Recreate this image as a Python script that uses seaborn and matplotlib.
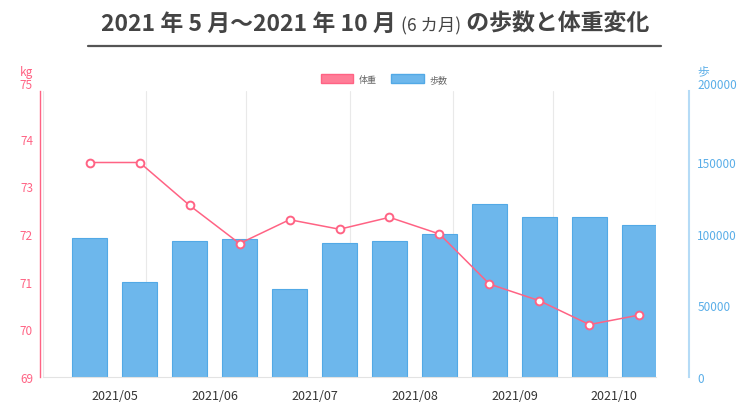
import numpy as np
import pandas as pd
import seaborn as sns
import matplotlib.pyplot as plt
from matplotlib.patches import Patch
from matplotlib.lines import Line2D

# data: half-month periods, May - Oct 2021
periods = ["05前半", "05後半", "06前半", "06後半", "07前半", "07後半",
           "08前半", "08後半", "09前半", "09後半", "10前半", "10後半"]
weight = [73.5, 73.5, 72.6, 71.8, 72.3, 72.1, 72.35, 72.0, 70.95, 70.6, 70.1, 70.3]
steps = [97500, 66100, 95200, 96400, 61500, 93600, 95200, 100300, 121000, 112200, 111700, 106100]
month_labels = ["2021/05", "2021/06", "2021/07", "2021/08", "2021/09", "2021/10"]
# days from 2021-05-01 to each month start (May .. Nov)
month_start_days = [0, 31, 61, 92, 123, 153, 184]

PINK = "#ff6384"
BLUE_FILL = "#6db7ec"
BLUE_EDGE = "#52a9e6"
BLUE_TXT = "#5aaee8"

sns.set_theme(style="white")
plt.rcParams["font.family"] = ["Noto Sans CJK JP", "DejaVu Sans"]

df = pd.DataFrame({"period": periods, "weight": weight, "steps": steps})
df["pos"] = np.arange(len(df))

fig = plt.figure(figsize=(7.5, 4.1), dpi=100)
ax = fig.add_axes([43 / 750, 32 / 410, 613 / 750, 286 / 410])
ax2 = ax.twinx()
ax2.set_zorder(ax.get_zorder() - 1)
ax.patch.set_visible(False)

# bars (steps, right axis)
sns.barplot(data=df, x="period", y="steps", ax=ax2, color=BLUE_FILL,
            width=0.71, saturation=1, edgecolor=BLUE_EDGE, linewidth=0.8, zorder=3)
ax2.set_ylim(0, 200000)
ax2.set_yticks([0, 50000, 100000, 150000, 200000])
ax2.set_ylabel("")
ax2.set_xlabel("")

# line (weight, left axis)
sns.lineplot(data=df, x="pos", y="weight", ax=ax, color=PINK, linewidth=1.1,
             marker="o", markersize=5.6, markerfacecolor="white",
             markeredgecolor=PINK, markeredgewidth=1.4, zorder=5)
ax.set_ylim(69, 75)
ax.set_yticks(range(69, 76))
ax.set_ylabel("")
ax.set_xlabel("")

# x axis: month labels between bar pairs, gridlines at month starts
grid_pos = [(d - 14) / 15 for d in month_start_days]
ax.set_xlim(grid_pos[0], grid_pos[-1])
ax2.set_xlim(grid_pos[0], grid_pos[-1])
ax.set_xticks([2 * i + 0.5 for i in range(len(month_labels))])
ax.set_xticklabels(month_labels, fontsize=9, color="#333333")
ax.set_xticks(grid_pos, minor=True)
ax.tick_params(axis="x", which="major", length=0, pad=9)
ax.tick_params(axis="x", which="minor", length=5, width=0.8, color="#e6e6e6")
ax.grid(False)
ax2.grid(False)
ax2.xaxis.set_visible(True)
ax2.set_axisbelow(True)
ax2.grid(which="minor", axis="x", color="#e9e9e9", linewidth=0.8)

# left axis styling
ax.tick_params(axis="y", length=0, pad=5, labelsize=8.5, labelcolor=PINK)
ax.spines["left"].set_position(("outward", 2.2))
ax.spines["left"].set_color(PINK)
ax.spines["left"].set_linewidth(1.0)
ax.spines["top"].set_visible(False)
ax.spines["right"].set_visible(False)
ax.spines["bottom"].set_color("#e3e3e3")
ax.spines["bottom"].set_linewidth(0.8)

# right axis styling
ax2.tick_params(axis="y", length=0, pad=6, labelsize=8.5, labelcolor=BLUE_TXT)
for s in ["left", "top", "bottom"]:
    ax2.spines[s].set_visible(False)
ax2.spines["right"].set_position(("outward", 23.8))
ax2.spines["right"].set_color("#b5dbf6")
ax2.spines["right"].set_linewidth(1.5)
ax2.tick_params(axis="x", which="both", length=0, labelbottom=False)

# top tick labels sit a bit higher, as in the reference
ax.get_yticklabels()[-1].set_va("bottom")
ax2.get_yticklabels()[-1].set_va("bottom")

# axis units
fig.text(33 / 750, 1 - 73 / 410, "kg", ha="right", va="center", fontsize=8.5, color=PINK)
fig.text(697 / 750, 1 - 72 / 410, "歩", ha="left", va="center", fontsize=8.5, color=BLUE_TXT)

# legend
handles = [Patch(facecolor="#ff7d97", edgecolor=PINK, label="体重"),
           Patch(facecolor=BLUE_FILL, edgecolor=BLUE_EDGE, label="歩数")]
fig.legend(handles=handles, loc="center", bbox_to_anchor=(0.512, 1 - 80 / 410),
           ncol=2, frameon=False, fontsize=6.5, handlelength=3.6, handleheight=1.1,
           handletextpad=0.6, columnspacing=1.6, labelcolor="#666666")

# title, with the smaller "(6 カ月)" part
fig.canvas.draw()
renderer = fig.canvas.get_renderer()
parts = [("2021 年 5 月〜2021 年 10 月 ", 16.5, "bold"), ("(6 カ月)", 12.5, "normal"),
         (" の歩数と体重変化", 16.5, "bold")]
texts = []
for s, fs, fw in parts:
    texts.append(fig.text(0, 1 - 25 / 410, s, fontsize=fs, fontweight=fw,
                          color="#444444", ha="left", va="baseline"))
widths = [t.get_window_extent(renderer).width for t in texts]
x = 375 - sum(widths) / 2
base_y = 1 - 31 / 410
for t, w in zip(texts, widths):
    t.set_position((x / 750, base_y))
    x += w
fig.add_artist(Line2D([88 / 750, 661 / 750], [1 - 47 / 410] * 2, color="#555555", linewidth=1.6))

fig.savefig("out.png", dpi=100)
